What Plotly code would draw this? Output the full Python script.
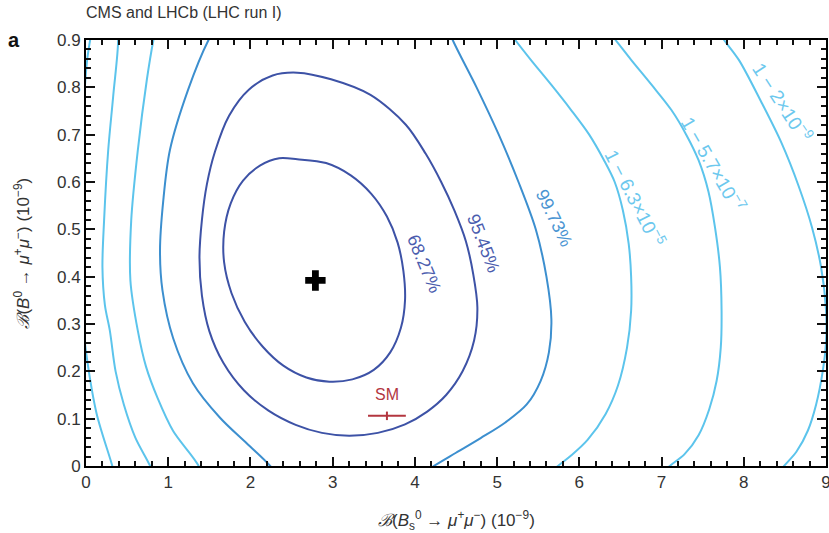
import plotly.graph_objects as go

# ---- data ----
# 68.27% contour (closed)
c1_x = [2.57, 2.92, 3.22, 3.47, 3.66, 3.79, 3.86, 3.88, 3.83, 3.70, 3.50, 3.24, 2.96, 2.68, 2.40, 2.15, 1.93, 1.77, 1.68, 1.68, 1.76, 1.91, 2.12, 2.35, 2.57]
c1_y = [0.648, 0.640, 0.614, 0.575, 0.527, 0.472, 0.412, 0.350, 0.292, 0.240, 0.203, 0.183, 0.178, 0.187, 0.212, 0.252, 0.305, 0.365, 0.430, 0.495, 0.555, 0.603, 0.635, 0.650, 0.648]
# 95.45% contour (closed)
c2_x = [2.57, 2.98, 3.46, 3.89, 4.13, 4.32, 4.48, 4.62, 4.71, 4.76, 4.72, 4.58, 4.38, 4.15, 3.88, 3.55, 3.20, 2.87, 2.55, 2.22, 1.92, 1.67, 1.50, 1.41, 1.38, 1.41, 1.47, 1.57, 1.74, 1.98, 2.27, 2.57]
c2_y = [0.831, 0.817, 0.784, 0.721, 0.660, 0.600, 0.540, 0.475, 0.405, 0.335, 0.265, 0.200, 0.150, 0.115, 0.088, 0.070, 0.064, 0.070, 0.087, 0.117, 0.160, 0.218, 0.285, 0.360, 0.440, 0.520, 0.595, 0.665, 0.740, 0.795, 0.825, 0.831]
# 99.73% contour (open: left and right branches)
c3l_x = [2.37, 2.24, 1.96, 1.63, 1.30, 1.06, 0.93, 0.90, 0.94, 1.02, 1.24, 1.49, 1.70]
c3l_y = [-0.032, 0.0, 0.047, 0.102, 0.175, 0.270, 0.371, 0.455, 0.561, 0.667, 0.794, 0.900, 0.960]
c3r_x = [4.32, 4.46, 4.75, 5.02, 5.26, 5.47, 5.60, 5.66, 5.63, 5.53, 5.36, 5.10, 4.80, 4.50, 4.23, 4.07]
c3r_y = [0.960, 0.900, 0.800, 0.700, 0.600, 0.500, 0.400, 0.310, 0.240, 0.180, 0.130, 0.092, 0.059, 0.028, 0.0, -0.018]
# 1 - 6.3e-5 contour
c4l_x = [1.41, 1.37, 1.06, 0.87, 0.73, 0.63, 0.54, 0.55, 0.63, 0.74, 0.82, 0.90]
c4l_y = [-0.028, 0.0, 0.074, 0.144, 0.210, 0.286, 0.392, 0.519, 0.667, 0.816, 0.900, 0.964]
c4r_x = [5.05, 5.22, 5.41, 5.66, 5.90, 6.12, 6.30, 6.43, 6.53, 6.60, 6.63, 6.63, 6.58, 6.47, 6.32, 6.10, 5.90, 5.74, 5.62]
c4r_y = [0.940, 0.900, 0.858, 0.805, 0.752, 0.700, 0.646, 0.600, 0.540, 0.470, 0.400, 0.328, 0.250, 0.170, 0.110, 0.055, 0.022, 0.0, -0.020]
# 1 - 5.7e-7 contour
c5l_x = [0.37, 0.39, 0.33, 0.27, 0.22, 0.20, 0.23, 0.29, 0.36, 0.46, 0.60, 0.78, 0.84]
c5l_y = [0.922, 0.900, 0.780, 0.667, 0.519, 0.420, 0.340, 0.286, 0.200, 0.130, 0.060, 0.0, -0.028]
c5r_x = [6.30, 6.44, 6.63, 6.88, 7.12, 7.30, 7.45, 7.57, 7.65, 7.71, 7.73, 7.72, 7.67, 7.58, 7.45, 7.28, 7.10, 6.98]
c5r_y = [0.930, 0.900, 0.858, 0.805, 0.752, 0.700, 0.646, 0.580, 0.504, 0.420, 0.328, 0.250, 0.180, 0.120, 0.065, 0.025, 0.0, -0.020]
# 1 - 2e-9 contour
c6l_x = [0.07, 0.05, 0.01, -0.05, -0.07, -0.04, 0.01, 0.13, 0.32, 0.35]
c6l_y = [0.922, 0.900, 0.852, 0.667, 0.455, 0.307, 0.229, 0.110, 0.0, -0.023]
c6r_x = [7.60, 7.76, 7.94, 8.21, 8.46, 8.67, 8.83, 8.94, 9.00, 9.00, 8.96, 8.88, 8.78, 8.64, 8.49, 8.40]
c6r_y = [0.940, 0.900, 0.858, 0.770, 0.682, 0.590, 0.504, 0.420, 0.330, 0.260, 0.200, 0.130, 0.075, 0.030, 0.0, -0.020]

best_fit = (2.79, 0.392)
sm_x, sm_y = 3.66, 0.106
sm_xerr, sm_yerr = 0.23, 0.009

labels = ["68.27%", "95.45%", "99.73%", "1 − 6.3×10<sup>−5</sup>", "1 − 5.7×10<sup>−7</sup>", "1 − 2×10<sup>−9</sup>"]
label_x = [4.11, 4.84, 5.69, 6.68, 7.63, 8.47]
label_y = [0.426, 0.470, 0.523, 0.566, 0.637, 0.768]
label_angle = [67, 69, 64, 63, 60, 57]

x_ticks = [0, 1, 2, 3, 4, 5, 6, 7, 8, 9]
y_ticks = [0, 0.1, 0.2, 0.3, 0.4, 0.5, 0.6, 0.7, 0.8, 0.9]
y_ticklabels = ["0", "0.1", "0.2", "0.3", "0.4", "0.5", "0.6", "0.7", "0.8", "0.9"]
x_minor_step = 0.2
y_minor_step = 0.02

# ---- styles ----
DARK = "#3d52a6"
MED = "#3c8fcf"
LIGHT = "#5cc4ec"
label_colors = ["#4a5cae", "#4a5cae", "#4a94d2", "#6cc8ee", "#6cc8ee", "#6cc8ee"]
label_sizes = [18, 18, 18, 19, 19, 19]
FONT = "Liberation Sans, Arial, sans-serif"
X_RANGE = [x_ticks[0], x_ticks[-1]]
Y_RANGE = [y_ticks[0], y_ticks[-1]]

fig = go.Figure()

def add_line(xs, ys, color, width=2.0):
    fig.add_trace(go.Scatter(x=xs, y=ys, mode="lines",
                             line=dict(color=color, width=width, shape="spline", smoothing=0.9),
                             hoverinfo="skip", showlegend=False))

add_line(c6l_x, c6l_y, LIGHT)
add_line(c6r_x, c6r_y, LIGHT)
add_line(c5l_x, c5l_y, LIGHT)
add_line(c5r_x, c5r_y, LIGHT)
add_line(c4l_x, c4l_y, LIGHT)
add_line(c4r_x, c4r_y, LIGHT)
add_line(c3l_x, c3l_y, MED)
add_line(c3r_x, c3r_y, MED)
add_line(c2_x, c2_y, DARK)
add_line(c1_x, c1_y, DARK)

# SM point with errors
fig.add_trace(go.Scatter(x=[sm_x], y=[sm_y], mode="markers",
                         marker=dict(size=1, color="#b3363f"),
                         error_x=dict(type="constant", value=sm_xerr, color="#b3363f", thickness=2, width=0),
                         error_y=dict(type="constant", value=sm_yerr, color="#b3363f", thickness=2, width=0),
                         hoverinfo="skip", showlegend=False))

# best fit
fig.add_trace(go.Scatter(x=[best_fit[0]], y=[best_fit[1]], mode="markers",
                         marker=dict(symbol="cross", size=17, color="black", line=dict(width=0)),
                         hoverinfo="skip", showlegend=False))

for t, lx, ly, ang, col, sz in zip(labels, label_x, label_y, label_angle, label_colors, label_sizes):
    fig.add_annotation(x=lx, y=ly, text=t, textangle=ang, showarrow=False,
                       font=dict(family=FONT, size=sz, color=col))

fig.add_annotation(x=sm_x, y=0.152, text="SM", showarrow=False,
                   font=dict(family=FONT, size=16, color="#b3363f"))

fig.add_annotation(xref="paper", yref="paper", x=-0.003, y=1.04, xanchor="left", yanchor="bottom",
                   text="CMS and LHCb (LHC run I)", showarrow=False,
                   font=dict(family=FONT, size=16, color="#333333"))
fig.add_annotation(xref="paper", yref="paper", x=-0.108, y=1.0, xanchor="left", yanchor="middle",
                   text="<b>a</b>", showarrow=False,
                   font=dict(family=FONT, size=20, color="#111111"))
fig.add_annotation(xref="paper", yref="paper", x=0.5, y=-0.127, xanchor="center", yanchor="middle",
                   text="<i>ℬ</i>(<i>B</i><sub>s</sub><sup>0</sup> → <i>μ</i><sup>+</sup><i>μ</i><sup>−</sup>) (10<sup>−9</sup>)",
                   showarrow=False, font=dict(family=FONT, size=17, color="#333333"))
fig.add_annotation(xref="paper", yref="paper", x=-0.087, y=0.5, xanchor="center", yanchor="middle",
                   textangle=-90,
                   text="<i>ℬ</i>(<i>B</i><sup>0</sup> → <i>μ</i><sup>+</sup><i>μ</i><sup>−</sup>) (10<sup>−9</sup>)",
                   showarrow=False, font=dict(family=FONT, size=17, color="#333333"))

n_xm = int(round((X_RANGE[1] - X_RANGE[0]) / x_minor_step))
n_ym = int(round((Y_RANGE[1] - Y_RANGE[0]) / y_minor_step))
x_minor = [round(X_RANGE[0] + i * x_minor_step, 4) for i in range(n_xm + 1)]
y_minor = [round(Y_RANGE[0] + i * y_minor_step, 4) for i in range(n_ym + 1)]

axis_style = dict(showgrid=False, zeroline=False, showline=True, linecolor="black", linewidth=2,
                  mirror="allticks", ticks="inside", ticklen=9, tickwidth=2, tickcolor="#111111",
                  ticklabeloverflow="allow", tickmode="array",
                  tickfont=dict(family=FONT, size=17, color="#333333"))

fig.update_layout(
    template="none", width=829, height=533, margin=dict(l=86, r=3, t=40, b=67),
    paper_bgcolor="white", plot_bgcolor="white", showlegend=False,
    xaxis=dict(range=X_RANGE, tickvals=x_ticks, ticktext=[str(v) for v in x_ticks],
               minor=dict(tickmode="array", tickvals=x_minor, ticks="inside", ticklen=5,
                          tickwidth=1.5, tickcolor="#111111", showgrid=False),
               **axis_style),
    yaxis=dict(range=Y_RANGE, tickvals=y_ticks, ticktext=y_ticklabels,
               minor=dict(tickmode="array", tickvals=y_minor, ticks="inside", ticklen=5,
                          tickwidth=1.5, tickcolor="#111111", showgrid=False),
               **axis_style),
)

fig.write_html("out.html")
